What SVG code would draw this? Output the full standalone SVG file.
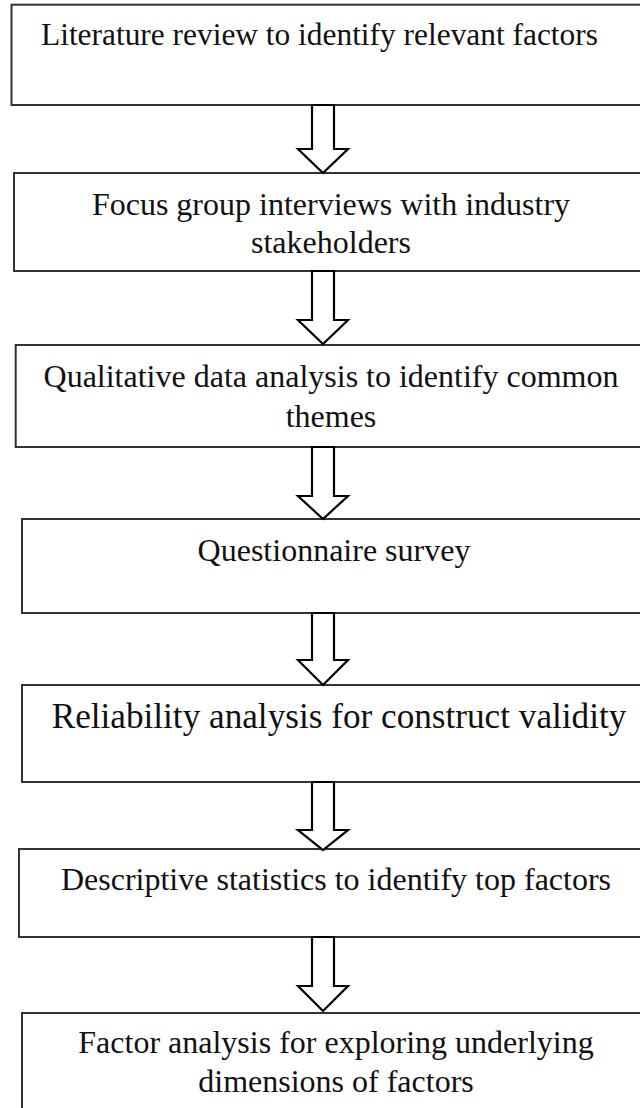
<svg xmlns="http://www.w3.org/2000/svg" width="640" height="1108" viewBox="0 0 640 1108">
<style>
.box{fill:#fff;stroke:#333;stroke-width:2}
.t{font-family:"Liberation Serif","Times New Roman",serif;fill:#111;font-size:32px}
.c{text-anchor:middle}
.arr{fill:#fff;stroke:#000;stroke-width:2.2;stroke-linejoin:miter}
</style>
<rect width="640" height="1108" fill="#fff"/>
<g id="n1"><rect class="box" x="11.5" y="4.7" width="660" height="100.3"/><text class="t" x="41" y="45" style="font-size:31.4px">Literature review to identify relevant factors</text></g>
<g id="n2"><rect class="box" x="14" y="173" width="660" height="98"/><text class="t c" x="331" y="215">Focus group interviews with industry</text><text class="t c" x="331" y="253">stakeholders</text></g>
<g id="n3"><rect class="box" x="15.7" y="345" width="660" height="102"/><text class="t c" x="331" y="387">Qualitative data analysis to identify common</text><text class="t c" x="331" y="427">themes</text></g>
<g id="n4"><rect class="box" x="22" y="519" width="660" height="94"/><text class="t c" x="334" y="561">Questionnaire survey</text></g>
<g id="n5"><rect class="box" x="22" y="685" width="660" height="97"/><text class="t c" x="339" y="728" style="font-size:35.2px">Reliability analysis for construct validity</text></g>
<g id="n6"><rect class="box" x="19" y="849" width="660" height="88"/><text class="t c" x="336" y="890">Descriptive statistics to identify top factors</text></g>
<g id="n7"><rect class="box" x="22" y="1013" width="660" height="120"/><text class="t c" x="336" y="1053">Factor analysis for exploring underlying</text><text class="t c" x="336" y="1092">dimensions of factors</text></g>
<g id="connectors">
<polygon class="arr" points="312,105 334,105 334,149 348,149 323,173 298,149 312,149"/>
<polygon class="arr" points="312,271 334,271 334,320 348,320 323,344 298,320 312,320"/>
<polygon class="arr" points="312,447 334,447 334,496 348,496 323,519 298,496 312,496"/>
<polygon class="arr" points="312,613 334,613 334,660 348,660 323,685 298,660 312,660"/>
<polygon class="arr" points="312,782 334,782 334,830 348,830 323,850 298,830 312,830"/>
<polygon class="arr" points="312,937 334,937 334,986 348,986 323,1011 298,986 312,986"/>
</g>
</svg>
